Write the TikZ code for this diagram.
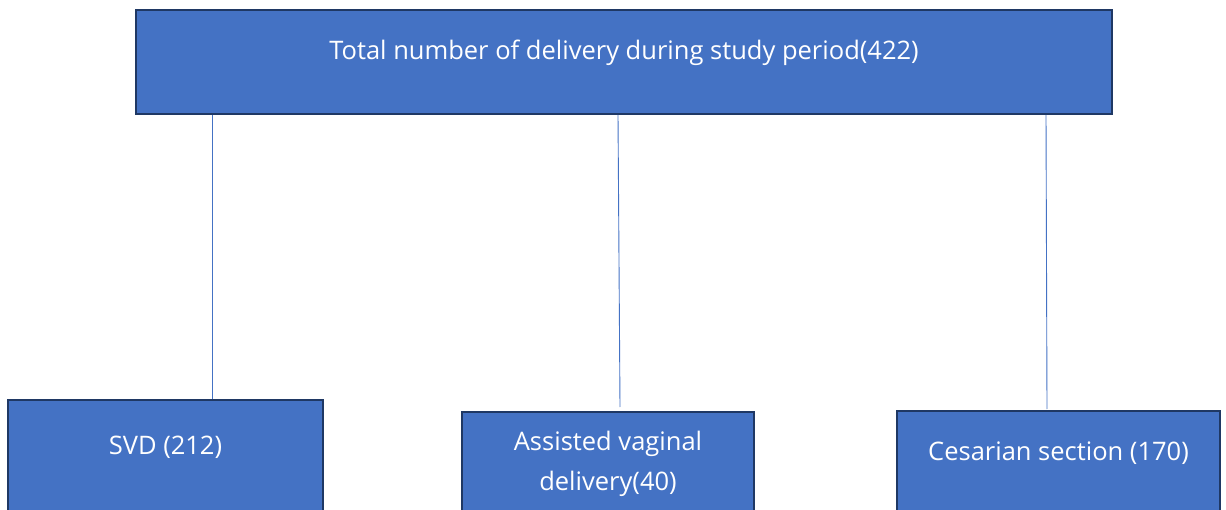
\documentclass[tikz,border=0pt]{standalone}
\usepackage{fontspec}
\setmainfont{Open Sans}
\definecolor{boxfill}{HTML}{4472C4}
\definecolor{boxline}{HTML}{1F3864}
\definecolor{conn}{HTML}{4472C4}
\begin{document}
\begin{tikzpicture}[x=1pt,y=-1pt,
  box/.style={draw=boxline,fill=boxfill,line width=2pt},
  lbl/.style={text=white,align=center,inner sep=0pt,font=\fontsize{25.5}{40}\selectfont},
  connector/.style={draw=conn,line width=0.9pt}]
\useasboundingbox (0,0) rectangle (1226,510);
\clip (0,0) rectangle (1226,510);
% boxes
\path[box] (136,10) rectangle (1112,114);
\path[box] (8,400) rectangle (323,530);
\path[box] (462,412) rectangle (754,530);
\path[box] (897,411) rectangle (1220,530);
% labels
\node[lbl] (toplbl) at (624,53) {Total number of delivery during study period(422)};
\node[lbl] (svdlbl) at (165.5,447) {SVD (212)};
\node[lbl] (avdlbl) at (608,464) {Assisted vaginal\\delivery(40)};
\node[lbl] (cslbl) at (1058.5,453) {Cesarian section (170)};
% connectors
\coordinate (t1) at (212,115);
\coordinate (t2) at (618,115);
\coordinate (t3) at (1046,115);
\coordinate (b1) at (212,399);
\coordinate (b2) at (620,407);
\coordinate (b3) at (1047,409);
\draw[connector] (t1) -- (b1);
\draw[connector] (t2) -- (b2);
\draw[connector] (t3) -- (b3);
\end{tikzpicture}
\end{document}
